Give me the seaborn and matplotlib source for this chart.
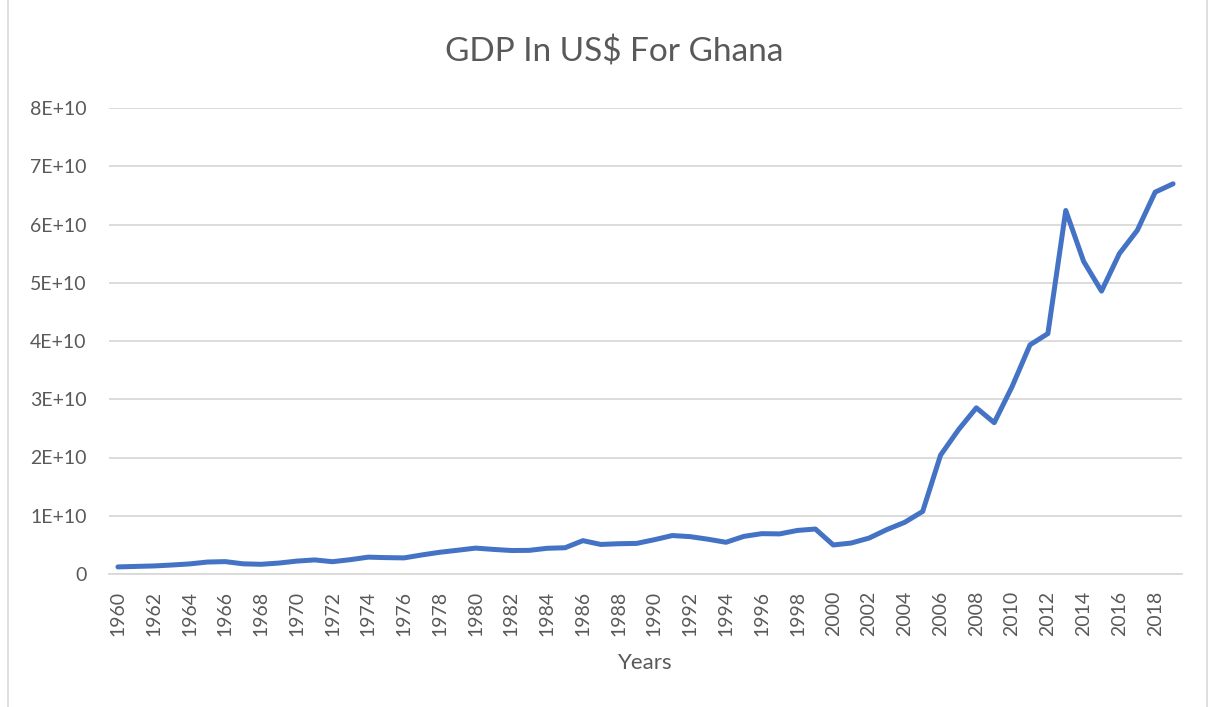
import matplotlib
matplotlib.use("Agg")
import matplotlib.pyplot as plt
import seaborn as sns
import pandas as pd
from matplotlib.lines import Line2D

# Ghana GDP, current US$ (billions)
years = list(range(1960, 2020))
gdp_billion = [
    1.217, 1.302, 1.382, 1.540, 1.731, 2.053, 2.126, 1.747, 1.666, 1.878,
    2.215, 2.417, 2.112, 2.465, 2.894, 2.810, 2.765, 3.276, 3.731, 4.082,
    4.446, 4.222, 4.035, 4.058, 4.415, 4.505, 5.727, 5.074, 5.197, 5.252,
    5.889, 6.603, 6.414, 5.967, 5.444, 6.458, 6.927, 6.884, 7.481, 7.720,
    4.983, 5.315, 6.166, 7.633, 8.881, 10.745, 20.409, 24.758, 28.528, 25.977,
    32.175, 39.337, 41.271, 62.405, 53.660, 48.569, 55.010, 58.997, 65.556, 66.984,
]
y_ticks = [0, 1e10, 2e10, 3e10, 4e10, 5e10, 6e10, 7e10, 8e10]
y_tick_labels = ["0", "1E+10", "2E+10", "3E+10", "4E+10", "5E+10", "6E+10", "7E+10", "8E+10"]
x_tick_years = list(range(1960, 2019, 2))

title = "GDP In US$ For Ghana"
x_label = "Years"

df = pd.DataFrame({"Year": years, "GDP": [v * 1e9 for v in gdp_billion]})

sns.set_theme(style="white")
plt.rcParams["font.family"] = ["Lato", "DejaVu Sans"]

text_color = "#595959"
grid_color = "#d9d9d9"
line_color = "#4472C4"

fig = plt.figure(figsize=(12.15, 7.07), dpi=100)
ax = fig.add_axes([109 / 1215, 1 - 574 / 707, (1182 - 109) / 1215, (574 - 108) / 707])

sns.lineplot(data=df, x="Year", y="GDP", ax=ax, color=line_color, linewidth=3.6,
             solid_capstyle="round", solid_joinstyle="round", zorder=3)

ax.set_xlim(1959.5, 2019.5)
ax.set_ylim(0, 8e10)
ax.set_yticks(y_ticks)
ax.set_yticklabels(y_tick_labels)
ax.set_xticks(x_tick_years)
ax.set_xticklabels([str(y) for y in x_tick_years], rotation=90)

ax.tick_params(axis="y", length=0, pad=16, labelsize=14, labelcolor=text_color)
ax.tick_params(axis="x", length=0, pad=12, labelsize=14, labelcolor=text_color)

ax.grid(axis="y", color=grid_color, linewidth=1.3, zorder=0)
ax.grid(axis="x", visible=False)
for side in ["top", "right", "left"]:
    ax.spines[side].set_visible(False)
ax.spines["bottom"].set_color(grid_color)
ax.spines["bottom"].set_linewidth(1.3)

ax.set_xlabel("")
ax.set_ylabel("")
fig.text(645 / 1215, 1 - 663 / 707, x_label, ha="center", va="center",
         fontsize=16, color=text_color)
fig.text(614 / 1215, 1 - 52 / 707, title, ha="center", va="center",
         fontsize=24, color=text_color)

# chart-area frame edges
for x in (8 / 1215, 1207 / 1215):
    fig.add_artist(Line2D([x, x], [0, 1], transform=fig.transFigure,
                          color=grid_color, linewidth=1.2))

fig.savefig("out.png", dpi=100, facecolor="white")
